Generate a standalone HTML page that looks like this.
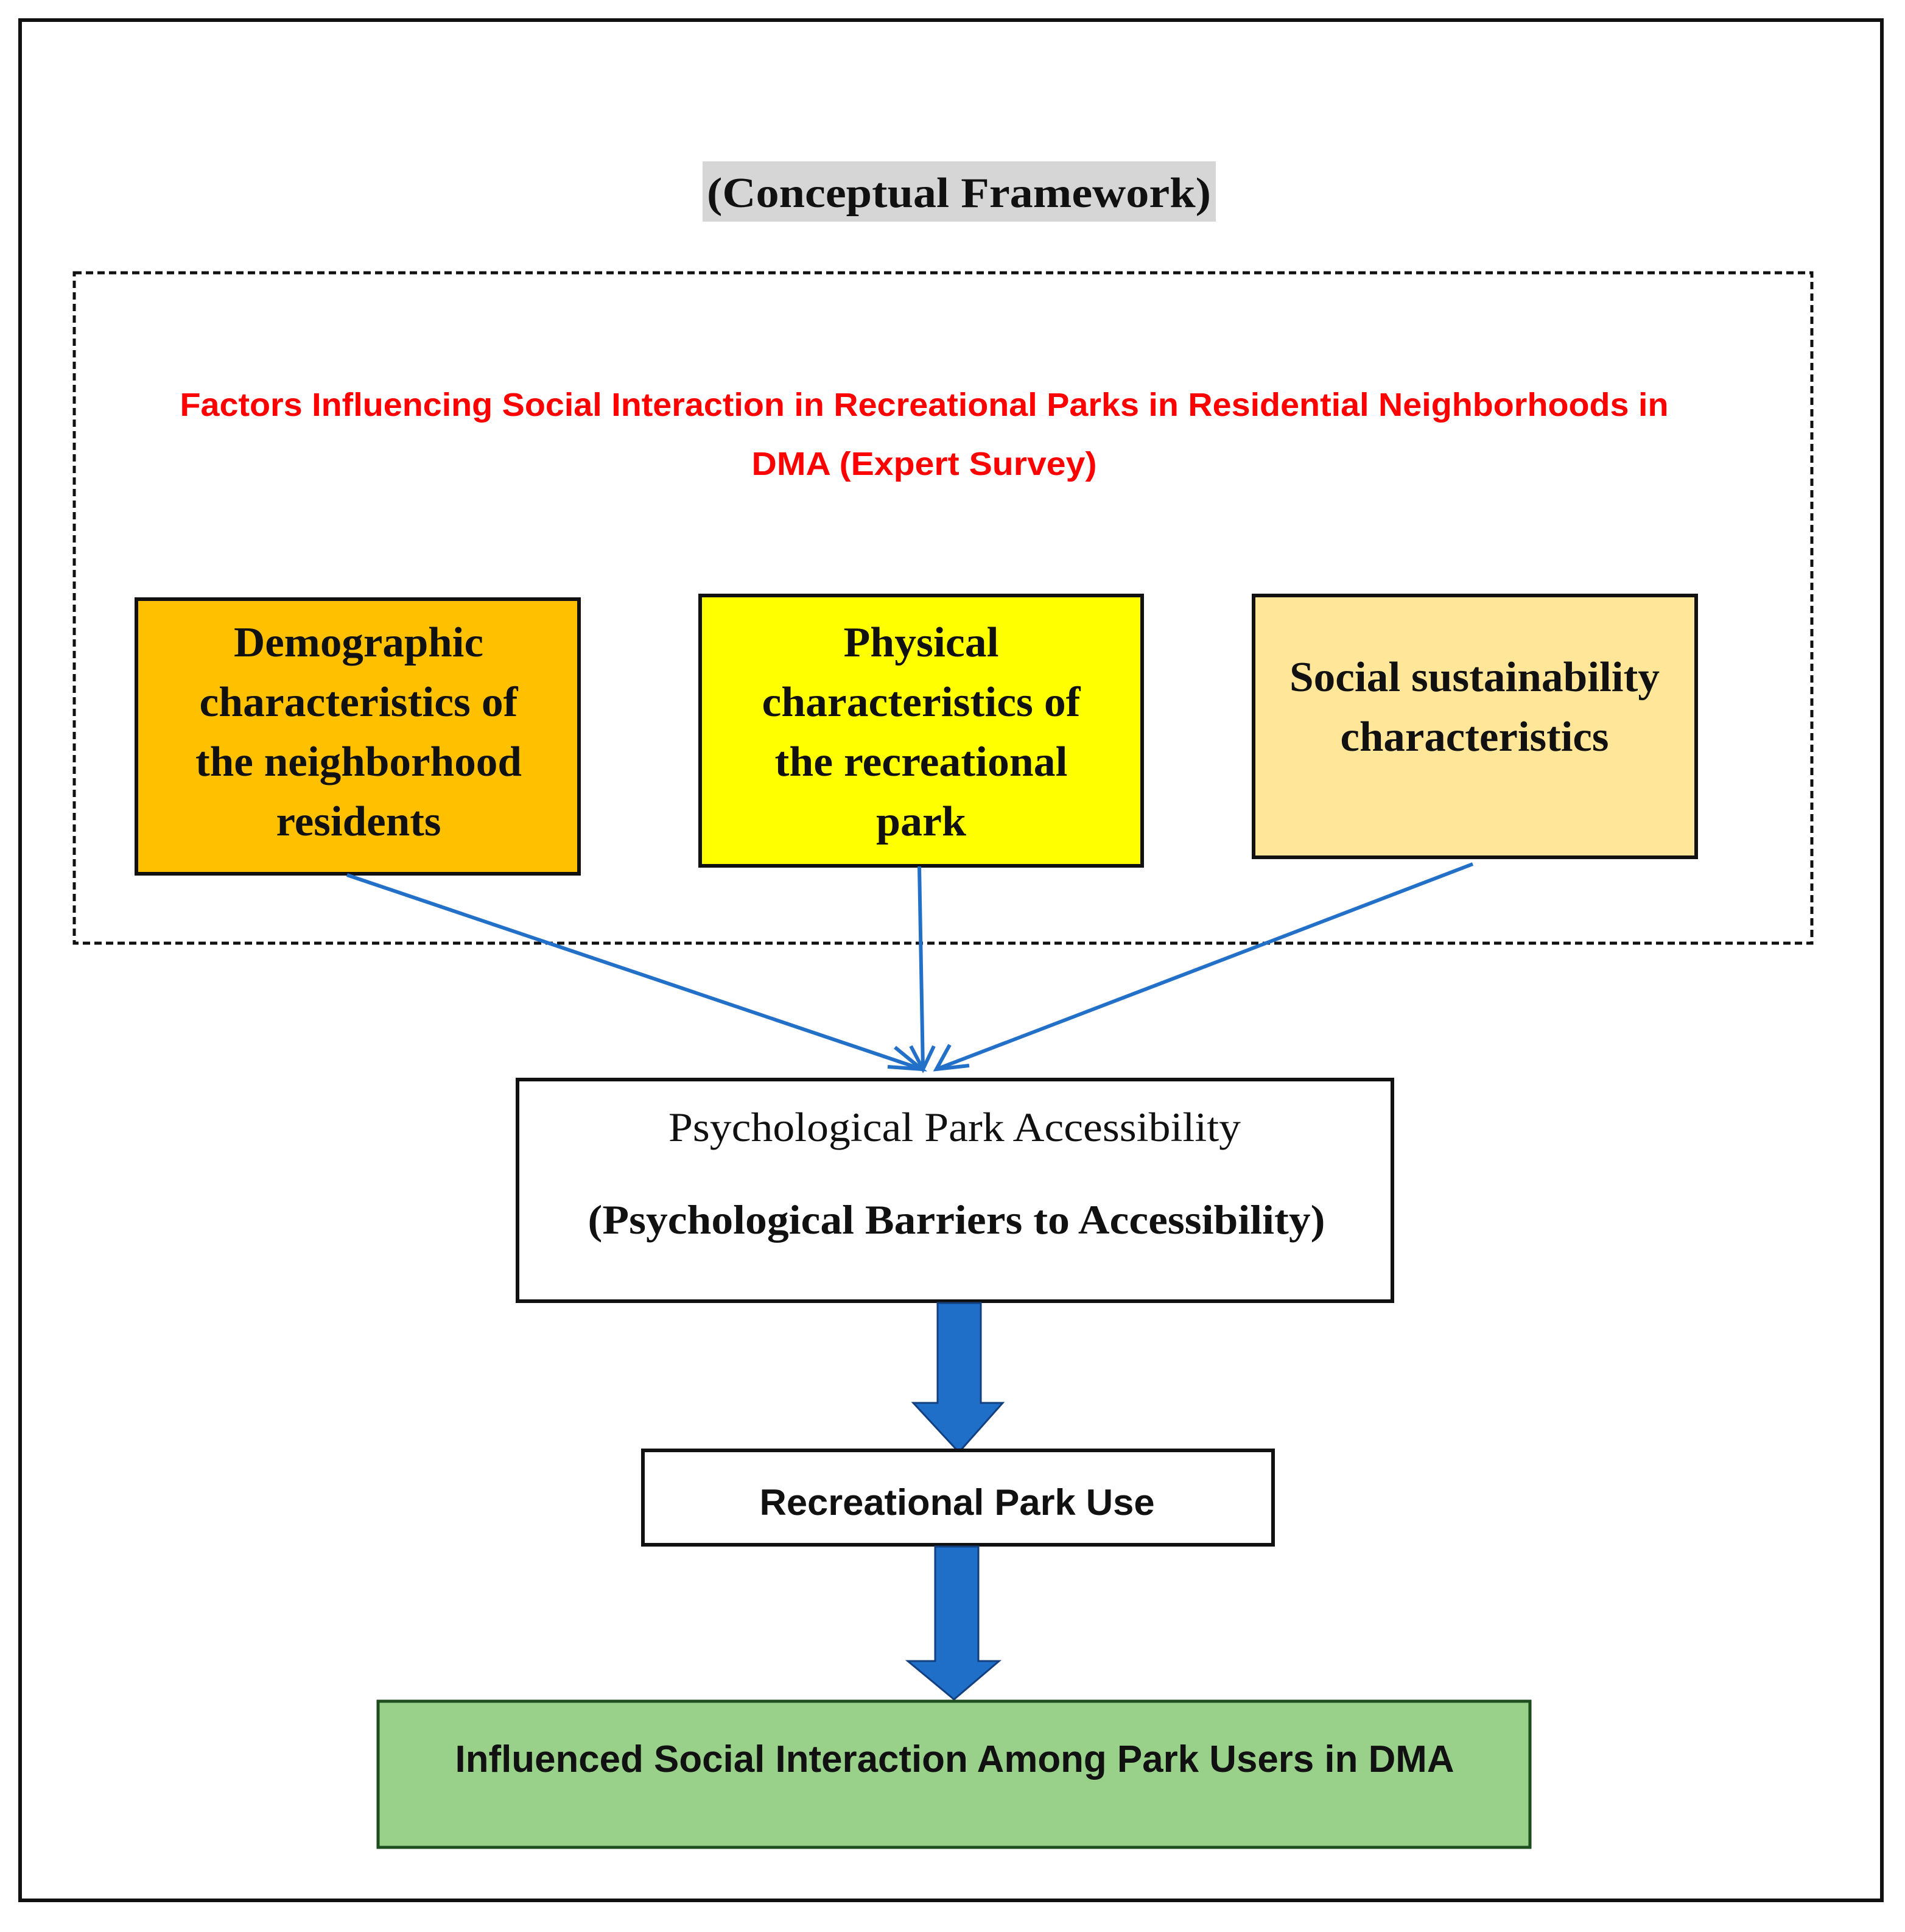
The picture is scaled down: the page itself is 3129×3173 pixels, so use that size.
<!DOCTYPE html>
<html><head><meta charset="utf-8"><style>html,body{margin:0;padding:0;background:#fff}svg{display:block}</style></head>
<body>
<svg width="3129" height="3173" viewBox="0 0 3129 3173" xmlns="http://www.w3.org/2000/svg">
<rect x="0" y="0" width="3129" height="3173" fill="#fff"/>
<rect x="33" y="33" width="3058" height="3088" fill="none" stroke="#111" stroke-width="6"/>
<rect x="1154" y="265" width="843" height="99" fill="#d6d6d6"/>
<text x="1575" y="340" text-anchor="middle" font-family="Liberation Serif, serif" font-weight="bold" font-size="70" textLength="828" lengthAdjust="spacingAndGlyphs" fill="#111">(Conceptual Framework)</text>
<rect x="122" y="448" width="2854" height="1101" fill="none" stroke="#111" stroke-width="5" stroke-dasharray="12,7"/>
<g font-family="Liberation Sans, sans-serif" font-weight="bold" font-size="54" fill="#ff0000" text-anchor="middle">
<text x="1518" y="683" textLength="2445" lengthAdjust="spacingAndGlyphs">Factors Influencing Social Interaction in Recreational Parks in Residential Neighborhoods in</text>
<text x="1518" y="780" textLength="567" lengthAdjust="spacingAndGlyphs">DMA (Expert Survey)</text>
</g>
<rect x="224" y="984" width="727" height="451" fill="#ffc000" stroke="#111" stroke-width="6"/>
<rect x="1150" y="978" width="726" height="444" fill="#ffff00" stroke="#111" stroke-width="6"/>
<rect x="2059" y="978" width="727" height="430" fill="#ffe699" stroke="#111" stroke-width="6"/>
<g font-family="Liberation Serif, serif" font-weight="bold" font-size="70" fill="#111" text-anchor="middle" lengthAdjust="spacingAndGlyphs">
<text x="589" y="1078" textLength="410" lengthAdjust="spacingAndGlyphs">Demographic</text>
<text x="589" y="1176" textLength="523" lengthAdjust="spacingAndGlyphs">characteristics of</text>
<text x="589" y="1274" textLength="536" lengthAdjust="spacingAndGlyphs">the neighborhood</text>
<text x="589" y="1372" textLength="271" lengthAdjust="spacingAndGlyphs">residents</text>
<text x="1513" y="1078" textLength="255" lengthAdjust="spacingAndGlyphs">Physical</text>
<text x="1513" y="1176" textLength="523" lengthAdjust="spacingAndGlyphs">characteristics of</text>
<text x="1513" y="1274" textLength="481" lengthAdjust="spacingAndGlyphs">the recreational</text>
<text x="1513" y="1372" textLength="148" lengthAdjust="spacingAndGlyphs">park</text>
<text x="2422" y="1135" textLength="608" lengthAdjust="spacingAndGlyphs">Social sustainability</text>
<text x="2422" y="1233" textLength="441" lengthAdjust="spacingAndGlyphs">characteristics</text>
</g>
<g stroke="#2370c8" stroke-width="6" fill="none">
<line x1="570" y1="1437" x2="1514" y2="1756"/>
<line x1="1510" y1="1423" x2="1516" y2="1756"/>
<line x1="2419" y1="1419" x2="1538" y2="1756"/>
<polyline points="1470,1720 1514,1756 1458,1752"/>
<polyline points="1496,1718 1516,1756 1534,1718"/>
<polyline points="1560,1716 1538,1756 1592,1750"/>
</g>
<rect x="850" y="1773" width="1437" height="364" fill="#fff" stroke="#111" stroke-width="6"/>
<text x="1568" y="1874" text-anchor="middle" font-family="Liberation Serif, serif" font-size="68" fill="#111" textLength="940" lengthAdjust="spacingAndGlyphs">Psychological Park Accessibility</text>
<text x="1571" y="2026" text-anchor="middle" font-family="Liberation Serif, serif" font-weight="bold" font-size="68" fill="#111" textLength="1211" lengthAdjust="spacingAndGlyphs">(Psychological Barriers to Accessibility)</text>
<polygon points="1540,2140 1611,2140 1611,2304 1647,2304 1575,2385 1500,2304 1540,2304" fill="#1f6fc8" stroke="#123f80" stroke-width="3"/>
<rect x="1056" y="2382" width="1035" height="155" fill="#fff" stroke="#111" stroke-width="6"/>
<text x="1572" y="2488" text-anchor="middle" font-family="Liberation Sans, sans-serif" font-weight="bold" font-size="60" fill="#111" textLength="649" lengthAdjust="spacingAndGlyphs">Recreational Park Use</text>
<polygon points="1536,2540 1607,2540 1607,2728 1641,2728 1567,2791 1491,2728 1536,2728" fill="#1f6fc8" stroke="#123f80" stroke-width="3"/>
<rect x="621" y="2794" width="1892" height="240" fill="#99d18b" stroke="#1e4d1e" stroke-width="5"/>
<text x="1568" y="2910" text-anchor="middle" font-family="Liberation Sans, sans-serif" font-weight="bold" font-size="62" fill="#111" textLength="1641" lengthAdjust="spacingAndGlyphs">Influenced Social Interaction Among Park Users in DMA</text>
</svg>
</body></html>
